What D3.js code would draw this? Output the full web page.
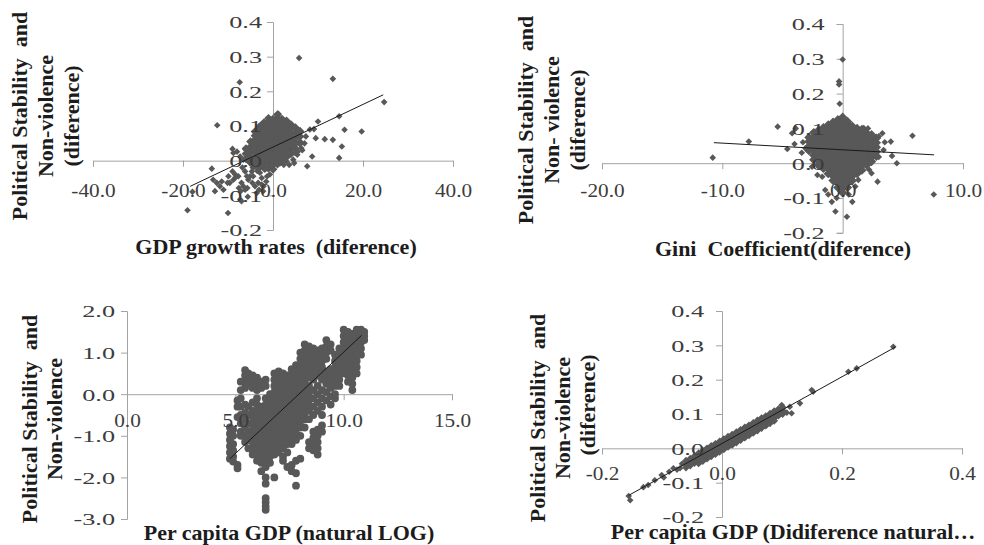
<!DOCTYPE html>
<html>
<head>
<meta charset="utf-8">
<script src="https://cdn.jsdelivr.net/npm/d3@7"></script>
<style>
  body { margin: 0; background: #fff; }
  text { font-family: "Liberation Serif", "Times New Roman", serif; }
</style>
</head>
<body>
<div id="chart"></div>
<script>
'use strict'

// ---- data ----

// panel 1: GDP growth rate difference vs stability difference
// dense core, written as [x, [y values]] columns
const growthCore = [
    [-6, [0.005, 0.02, 0.035]],
    [-5, [-0.005, 0.01, 0.025, 0.04, 0.055]],
    [-4, [-0.015, 0.0, 0.012, 0.024, 0.036, 0.048, 0.06, 0.072, 0.084]],
    [-3, [-0.02, -0.008, 0.004, 0.016, 0.028, 0.04, 0.052, 0.064, 0.076, 0.088, 0.098]],
    [-2, [-0.02, -0.008, 0.004, 0.016, 0.028, 0.04, 0.052, 0.064, 0.076, 0.088, 0.1, 0.11]],
    [-1, [-0.022, -0.008, 0.004, 0.016, 0.028, 0.04, 0.052, 0.064, 0.076, 0.088, 0.1, 0.112, 0.122]],
    [0, [-0.025, -0.012, 0.0, 0.012, 0.024, 0.036, 0.048, 0.06, 0.072, 0.084, 0.096, 0.108, 0.12]],
    [1, [-0.01, 0.002, 0.014, 0.026, 0.038, 0.05, 0.062, 0.074, 0.086, 0.098, 0.11, 0.122, 0.133]],
    [2, [0.0, 0.012, 0.024, 0.036, 0.048, 0.06, 0.072, 0.084, 0.096, 0.108, 0.12]],
    [3, [0.01, 0.022, 0.034, 0.046, 0.058, 0.07, 0.082, 0.094, 0.106, 0.115]],
    [4, [0.02, 0.032, 0.044, 0.056, 0.068, 0.08, 0.092, 0.104]],
    [5, [0.035, 0.05, 0.065, 0.08, 0.095]],
    [6, [0.05, 0.07, 0.085]]
];
const growthScatter = [
    [5.8, 0.296], [13.3, 0.236], [24.7, 0.169], [-7.4, 0.226], [-12.4, 0.102], [14.7, 0.128],
    [15.9, 0.089], [19.7, 0.084], [10, 0.113], [9.1, 0.091], [11.5, 0.062], [13.3, 0.06],
    [15.3, 0.041], [14.7, 0.008], [8.7, 0.012], [7.6, -0.016], [9.5, 0.065], [7.3, 0.07],
    [5.4, 0.017], [4.7, -0.007], [3.6, -0.012], [2.4, -0.012], [8.2, 0.09], [6.5, 0.03],
    [7, 0.05], [6.3, 0.036], [6, 0.056], [4.9, 0.022], [1.6, -0.007], [3, -0.002],
    [4.5, 0.003], [3.7, 0.022], [5.5, 0.026], [1.2, 0.135], [-2.5, 0.105],
    [-19, -0.143], [-10, -0.151], [-17.9, -0.09], [-13.6, -0.023], [-9, 0.034], [-7, -0.117],
    [-13.3, -0.055], [-12.5, -0.064], [-11.8, -0.074], [-11, -0.084], [-12.9, -0.088], [-11.4, -0.06],
    [-9.9, -0.045], [-9.6, -0.064], [-8.8, -0.055], [-8.4, -0.04], [-7.7, -0.045], [-7, -0.064],
    [-6.6, -0.074], [-6.2, -0.031], [-5.8, -0.045], [-5.5, -0.055], [-5.1, -0.045], [-4.7, -0.031],
    [-4.4, -0.045], [-4, -0.074], [-3.3, -0.064], [-2.5, -0.069], [-2.2, -0.088], [-6.2, -0.084],
    [-3.6, -0.093], [-2.9, -0.035], [-1.8, -0.026], [-1.3, -0.045], [-0.7, -0.04], [-0.3, -0.016],
    [-8.8, 0.022], [-8, 0.026], [-7.3, 0.012], [-5.8, 0.003], [-5.1, -0.007], [-6.6, 0.003],
    [-7.2, -0.088], [-5.6, -0.104], [-7.3, -0.112], [-10.1, -0.064], [-9, -0.031], [-8.3, -0.048],
    [-7.6, -0.079], [-5.7, -0.079], [-4.6, -0.064], [-3.1, -0.084], [-2.1, -0.074], [-6.1, 0.032],
    [-3.5, -0.03], [-2.5, -0.05], [-1.5, -0.06], [-4.5, -0.02], [-6.8, -0.02]
];
const growthTrend = [[-18.4, -0.074], [24.5, 0.19]];

// panel 2: Gini coefficient difference vs stability difference
const giniCore = [
    [-2.8, [0.036, 0.049, 0.062, 0.074]],
    [-2.4, [0.01, 0.023, 0.036, 0.049, 0.062, 0.075, 0.088]],
    [-2.0, [-0.005, 0.008, 0.021, 0.034, 0.047, 0.06, 0.073, 0.086, 0.095]],
    [-1.6, [-0.015, -0.002, 0.011, 0.024, 0.037, 0.05, 0.063, 0.076, 0.089, 0.102]],
    [-1.2, [-0.03, -0.017, -0.004, 0.009, 0.022, 0.035, 0.048, 0.061, 0.074, 0.087, 0.1, 0.11]],
    [-0.8, [-0.05, -0.037, -0.024, -0.011, 0.002, 0.015, 0.028, 0.041, 0.054, 0.067, 0.08, 0.093, 0.106, 0.118]],
    [-0.4, [-0.07, -0.057, -0.044, -0.031, -0.018, -0.005, 0.008, 0.021, 0.034, 0.047, 0.06, 0.073, 0.086, 0.099, 0.112, 0.125]],
    [0, [-0.085, -0.072, -0.059, -0.046, -0.033, -0.02, -0.007, 0.006, 0.019, 0.032, 0.045, 0.058, 0.071, 0.084, 0.097, 0.11, 0.122, 0.132]],
    [0.4, [-0.07, -0.057, -0.044, -0.031, -0.018, -0.005, 0.008, 0.021, 0.034, 0.047, 0.06, 0.073, 0.086, 0.099, 0.112, 0.12]],
    [0.8, [-0.05, -0.037, -0.024, -0.011, 0.002, 0.015, 0.028, 0.041, 0.054, 0.067, 0.08, 0.093, 0.106]],
    [1.2, [-0.03, -0.017, -0.004, 0.009, 0.022, 0.035, 0.048, 0.061, 0.074, 0.087, 0.1]],
    [1.6, [-0.02, -0.007, 0.006, 0.019, 0.032, 0.045, 0.058, 0.071, 0.084, 0.097]],
    [2.0, [-0.005, 0.008, 0.021, 0.034, 0.047, 0.06, 0.073, 0.086]],
    [2.4, [0.005, 0.018, 0.031, 0.044, 0.057, 0.07, 0.082]],
    [2.8, [0.02, 0.033, 0.046, 0.059, 0.072]]
];
const giniScatter = [
    [0, 0.298], [-0.3, 0.235], [-0.3, 0.226], [-0.25, 0.171], [-5.4, 0.105], [-7.8, 0.062],
    [-10.8, 0.016], [-4.6, 0.041], [-4.2, 0.086], [-4, 0.055], [5.8, 0.079], [4, 0.062],
    [4.1, 0.021], [4.5, 0.0], [7.57, -0.09], [3, 0.077], [2.9, -0.053], [2.2, -0.019],
    [1.3, -0.048], [0.8, -0.111], [0.35, -0.154], [-0.6, -0.139], [-0.9, -0.111], [-1.45, -0.077],
    [-1.7, -0.039], [-2.1, -0.034], [-1.2, -0.09], [1.05, -0.067], [1.3, -0.022], [2.4, -0.029],
    [1.75, 0.101], [2.1, 0.1], [3.3, 0.086], [3.4, 0.038], [3, 0.018], [-3.1, 0.043],
    [-3.4, 0.03], [-2.55, -0.01], [-2, -0.01], [-3.9, 0.1], [-3.3, 0.06], [3.5, 0.06],
    [-0.5, -0.1], [0.5, -0.09]
];
const giniTrend = [[-10.7, 0.059], [7.6, 0.024]];

// panel 3: log per capita GDP vs stability level
const logGdpCore = [
    [4.75, [-0.8, -0.95, -1.1, -1.25, -1.4, -1.55]],
    [4.9, [-0.85, -1.0, -1.2, -1.35, -1.5, -1.62]],
    [5.1, [-0.15, -0.3, -0.55, -1.7, -1.78]],
    [5.25, [0.3, 0.1, -0.1, -0.3, -0.5, -0.7, -0.9, -1.0]],
    [5.45, [0.58, 0.45, 0.3, 0.15, -0.25, -0.45, -0.6, -0.8, -1.0, -1.15]],
    [5.6, [0.5, 0.35, 0.25, -0.3, -0.5, -0.7, -0.9, -1.1, -1.3]],
    [5.8, [0.45, 0.3, 0.15, -0.2, -0.4, -0.55, -0.7, -0.85, -1.0, -1.15, -1.3, -1.45]],
    [6.0, [0.4, 0.25, 0.1, -0.1, -0.25, -0.4, -0.55, -0.7, -0.85, -1.0, -1.15, -1.3, -1.45, -1.6]],
    [6.2, [0.3, 0.15, -0.3, -0.45, -0.6, -0.75, -0.9, -1.05, -1.2, -1.35, -1.5, -1.65, -1.85]],
    [6.4, [0.35, 0.2, -0.1, -0.25, -0.4, -0.55, -0.7, -0.85, -1.0, -1.15, -1.3, -1.45, -1.6, -1.75, -2.0, -2.15, -2.5, -2.6, -2.7, -2.78]],
    [6.6, [0.0, -0.15, -0.3, -0.45, -0.6, -0.75, -0.9, -1.05, -1.2, -1.35, -1.5, -1.65]],
    [6.8, [0.5, 0.35, 0.2, 0.05, -0.1, -0.25, -0.4, -0.55, -0.7, -0.85, -1.0, -1.15, -1.3, -1.45, -2.0]],
    [7.0, [0.55, 0.4, 0.25, 0.1, -0.05, -0.2, -0.35, -0.5, -0.65, -0.8, -0.95, -1.1, -1.25, -1.4]],
    [7.2, [0.5, 0.35, 0.2, 0.05, -0.1, -0.25, -0.4, -0.55, -0.7, -0.85, -1.0, -1.15, -1.3, -1.5, -1.6]],
    [7.4, [0.45, 0.3, 0.15, 0.0, -0.15, -0.3, -0.45, -0.6, -0.75, -0.9, -1.05, -1.2, -1.4, -1.75]],
    [7.6, [0.6, 0.45, 0.3, 0.15, 0.0, -0.15, -0.3, -0.45, -0.6, -0.75, -0.9, -1.05, -1.2, -1.7, -1.85]],
    [7.8, [0.7, 0.55, 0.4, 0.25, 0.1, -0.05, -0.2, -0.35, -0.5, -0.65, -0.8, -0.95, -1.1, -1.6, -1.9, -2.2]],
    [8.0, [1.0, 0.85, 0.7, 0.55, 0.4, 0.25, 0.1, -0.05, -0.2, -0.35, -0.5, -0.65, -0.8, -1.0, -1.55]],
    [8.2, [1.2, 1.05, 0.9, 0.75, 0.6, 0.45, 0.3, 0.15, 0.0, -0.15, -0.3, -0.45, -0.6, -0.8]],
    [8.4, [1.15, 1.0, 0.85, 0.7, 0.55, 0.4, 0.2, 0.05, -0.1, -0.25, -0.4, -0.6, -1.15, -1.3]],
    [8.6, [1.1, 0.95, 0.8, 0.65, 0.5, 0.35, 0.1, -0.1, -0.3, -0.5, -0.9, -1.05, -1.2, -1.35]],
    [8.8, [1.05, 0.9, 0.75, 0.6, 0.45, 0.2, 0.0, -0.2, -0.4, -0.85, -1.0, -1.15, -1.3, -1.45]],
    [9.0, [1.1, 0.95, 0.8, 0.65, 0.5, 0.35, 0.1, -0.1, -0.3, -0.5, -0.75, -0.9]],
    [9.2, [1.3, 1.15, 1.0, 0.85, 0.55, 0.4, 0.25, 0.05, -0.15]],
    [9.4, [1.2, 1.05, 0.6, 0.45, 0.3, 0.15, -0.05, -0.25]],
    [9.6, [0.95, 0.8, 0.65, 0.5, 0.35, 0.2, 0.0, -0.1]],
    [9.8, [1.1, 0.95, 0.8, 0.65, 0.5, 0.35, 0.2]],
    [10.0, [1.55, 1.4, 1.25, 1.1, 0.95, 0.8, 0.65, 0.5]],
    [10.2, [1.5, 1.35, 1.2, 1.05, 0.9, 0.75, 0.6, 0.45, 0.3]],
    [10.4, [1.45, 1.3, 1.15, 1.0, 0.85, 0.7, 0.55, 0.4, 0.25, 0.1]],
    [10.6, [1.55, 1.4, 1.25, 1.1, 0.95, 0.8, 0.65, 0.5]],
    [10.8, [1.55, 1.4, 1.25, 1.1, 0.95]],
    [10.95, [1.5, 1.4, 1.3]]
];
const logGdpScatter = [];
const logGdpTrend = [[4.75, -1.55], [10.83, 1.415]];

// panel 4: per capita GDP log difference vs stability difference
const gdpDiffCore = [
    [-0.060, [-0.036, -0.046, -0.056]],
    [-0.053, [-0.030, -0.040, -0.050]],
    [-0.046, [-0.023, -0.033, -0.043]],
    [-0.039, [-0.014, -0.024, -0.034, -0.044]],
    [-0.032, [-0.007, -0.017, -0.027, -0.037]],
    [-0.025, [0.000, -0.010, -0.020, -0.030]],
    [-0.018, [0.007, -0.003, -0.013, -0.023]],
    [-0.011, [0.013, 0.003, -0.007, -0.017]],
    [-0.004, [0.020, 0.010, 0.000, -0.010]],
    [0.003, [0.027, 0.017, 0.007, -0.003]],
    [0.010, [0.034, 0.024, 0.014, 0.004]],
    [0.017, [0.040, 0.030, 0.020, 0.010]],
    [0.024, [0.047, 0.037, 0.027, 0.017]],
    [0.031, [0.054, 0.044, 0.034, 0.024]],
    [0.038, [0.061, 0.051, 0.041, 0.031]],
    [0.045, [0.067, 0.057, 0.047, 0.038]],
    [0.052, [0.074, 0.064, 0.054, 0.045]],
    [0.059, [0.081, 0.071, 0.061, 0.052]],
    [0.066, [0.088, 0.078, 0.068, 0.059]],
    [0.073, [0.094, 0.084, 0.074, 0.066]],
    [0.080, [0.101, 0.091, 0.081, 0.073]],
    [0.087, [0.108, 0.098, 0.088, 0.080]],
    [0.094, [0.114, 0.104, 0.095]],
    [0.101, [0.120, 0.110, 0.100]]
];
const gdpDiffScatter = [
    [-0.1555, -0.139], [-0.153, -0.151], [-0.131, -0.113], [-0.123, -0.107], [-0.112, -0.093],
    [-0.1005, -0.078], [-0.097, -0.085], [-0.088, -0.068], [-0.081, -0.058], [-0.075, -0.062],
    [-0.0667, -0.045], [-0.07, -0.058],
    [0.2855, 0.296], [0.2106, 0.223], [0.2245, 0.233], [0.1495, 0.17], [0.152, 0.165],
    [0.13, 0.131], [0.113, 0.121], [0.116, 0.102], [0.108, 0.104], [0.0995, 0.126]
];
const gdpDiffTrend = [[-0.1555, -0.137], [0.289, 0.295]];

// tick values
const diffTicksY = [-0.2, -0.1, 0, 0.1, 0.2, 0.3, 0.4];
const growthTicksX = [-40, -20, 0, 20, 40];
const giniTicksX = [-20, -10, 0, 10];
const logGdpTicksX = [0, 5, 10, 15];
const logGdpTicksY = [-3, -2, -1, 0, 1, 2];
const gdpDiffTicksX = [-0.2, 0, 0.2, 0.4];

// ---- drawing ----

const AXIS_COLOR = '#a3a3a3';
const LABEL_COLOR = '#3c3c3c';
const TITLE_COLOR = '#1c1c1c';
const MARK_COLOR = '#585858';

const svg = d3.select('#chart').append('svg')
    .attr('width', 984)
    .attr('height', 545);
svg.append('rect').attr('width', 984).attr('height', 545).attr('fill', '#fff');

function columnsToPoints(cols) {
    return cols.flatMap(([x, ys]) => ys.map(y => [x, y]));
}

// mark = half diagonal of the diamond, coreMark for the packed clouds
const panels = [
    {
        core: columnsToPoints(growthCore), scatter: growthScatter, trend: growthTrend,
        xDomain: [-40, 40], xRange: [93, 453], yDomain: [-0.2, 0.4], yRange: [230, 22],
        xTicks: growthTicksX, yTicks: diffTicksY, yGap: 11, xLabelY: 36,
        shape: 'diamond', mark: 3.3, coreMark: 4.4,
        xTitle: 'GDP growth rates  (diference)', xTitlePos: [276, 254],
        yTitle: ['Political Stability  and', 'Non-violence', '(diference)'],
        yTitleX: [27, 53, 79], yTitleY: [116, 116, 116]
    },
    {
        core: columnsToPoints(giniCore), scatter: giniScatter, trend: giniTrend,
        xDomain: [-20, 10], xRange: [602, 963], yDomain: [-0.2, 0.4], yRange: [232.8, 24],
        xTicks: giniTicksX, yTicks: diffTicksY, yGap: 18, xLabelY: 34,
        shape: 'diamond', mark: 3.3, coreMark: 4.7,
        xTitle: 'Gini  Coefficient(diference)', xTitlePos: [783, 256],
        yTitle: ['Political Stability  and', 'Non- violence', '(diference)'],
        yTitleX: [533, 559, 585], yTitleY: [120, 120, 120]
    },
    {
        core: columnsToPoints(logGdpCore), scatter: logGdpScatter, trend: logGdpTrend,
        xDomain: [0, 15], xRange: [127, 452], yDomain: [-3, 2], yRange: [519, 311],
        xTicks: logGdpTicksX, yTicks: logGdpTicksY, yGap: 12, xLabelY: 33,
        shape: 'circle', mark: 3.9, coreMark: 3.9,
        xTitle: 'Per capita GDP (natural LOG)', xTitlePos: [289, 539.5],
        yTitle: ['Political Stability  and', 'Non-violence'],
        yTitleX: [37, 62], yTitleY: [419, 419]
    },
    {
        core: columnsToPoints(gdpDiffCore), scatter: gdpDiffScatter, trend: gdpDiffTrend,
        xDomain: [-0.2, 0.4], xRange: [602, 962], yDomain: [-0.2, 0.4], yRange: [517, 311],
        xTicks: gdpDiffTicksX, yTicks: diffTicksY, yGap: 18, xLabelY: 32,
        shape: 'diamond', mark: 3.3, coreMark: 3.9,
        xTitle: 'Per capita GDP (Didiference natural\u2026', xTitlePos: [793, 539],
        yTitle: ['Political Stability  and', 'Non-violence', '(diference)'],
        yTitleX: [545, 570, 595], yTitleY: [418, 418, 405]
    }
];

function markerPath(shape, half) {
    if (shape === 'circle') return d3.symbol(d3.symbolCircle, Math.PI * half * half)();
    const side = half * Math.SQRT2;
    return d3.symbol(d3.symbolSquare, side * side)();
}

function drawPanel(p) {
    const x = d3.scaleLinear().domain(p.xDomain).range(p.xRange);
    const y = d3.scaleLinear().domain(p.yDomain).range(p.yRange);
    const g = svg.append('g');

    const xAxis = d3.axisBottom(x).tickValues(p.xTicks).tickSizeOuter(0);
    const yAxis = d3.axisLeft(y).tickValues(p.yTicks).tickSizeOuter(0);

    // axis lines and tick marks go under the markers
    g.append('g')
        .attr('transform', `translate(0,${y(0)})`)
        .call(xAxis.tickSize(6).tickFormat(''))
        .call(a => a.selectAll('path, line').attr('stroke', AXIS_COLOR).attr('stroke-width', 1));
    g.append('g')
        .attr('transform', `translate(${x(0)},0)`)
        .call(yAxis.tickSize(6).tickFormat(''))
        .call(a => a.selectAll('path, line').attr('stroke', AXIS_COLOR).attr('stroke-width', 1));

    // markers: excel style diamonds (round blobs in the log panel)
    const rot = p.shape === 'circle' ? '' : ' rotate(45)';
    [[p.core, p.coreMark], [p.scatter, p.mark]].forEach(([pts, half]) => {
        g.append('g').selectAll('path')
            .data(pts)
            .enter().append('path')
            .attr('d', markerPath(p.shape, half))
            .attr('transform', d => `translate(${x(d[0])},${y(d[1])})${rot}`)
            .attr('fill', MARK_COLOR);
    });

    // linear trend line
    g.append('path')
        .datum(p.trend)
        .attr('d', d3.line().x(d => x(d[0])).y(d => y(d[1])))
        .attr('fill', 'none')
        .attr('stroke', '#1a1a1a')
        .attr('stroke-width', 1);

    // tick labels on top
    const xs = 1.12, ys = 1.5;
    g.append('g')
        .attr('transform', `translate(0,${y(0)})`)
        .call(xAxis.tickSize(0).tickFormat(d => d.toFixed(1)))
        .call(a => { a.select('.domain').remove(); a.selectAll('line').remove(); })
        .attr('font-family', '"Liberation Serif", serif')
        .attr('font-size', 19)
        .selectAll('text')
        .attr('y', p.xLabelY)
        .attr('dy', null)
        .attr('fill', LABEL_COLOR)
        .attr('transform', `scale(${xs},1)`);
    g.append('g')
        .attr('transform', `translate(${x(0)},0)`)
        .call(yAxis.tickSize(0).tickFormat(d => d.toFixed(1)))
        .call(a => { a.select('.domain').remove(); a.selectAll('line').remove(); })
        .attr('font-family', '"Liberation Serif", serif')
        .attr('font-size', 17.5)
        .selectAll('text')
        .attr('x', -p.yGap / ys)
        .attr('dy', '0.34em')
        .attr('fill', LABEL_COLOR)
        .attr('transform', `scale(${ys},1)`);

    // axis titles
    g.append('text')
        .attr('x', p.xTitlePos[0])
        .attr('y', p.xTitlePos[1])
        .attr('text-anchor', 'middle')
        .style('white-space', 'pre')
        .style('font-size', '22px')
        .style('font-weight', 'bold')
        .attr('fill', TITLE_COLOR)
        .text(p.xTitle);

    p.yTitle.forEach((line, i) => {
        g.append('text')
            .attr('transform', `translate(${p.yTitleX[i]},${p.yTitleY[i]}) rotate(-90)`)
            .attr('text-anchor', 'middle')
            .style('white-space', 'pre')
            .style('font-size', '22px')
            .style('font-weight', 'bold')
            .attr('fill', TITLE_COLOR)
            .text(line);
    });
}

panels.forEach(drawPanel);
</script>
</body>
</html>
